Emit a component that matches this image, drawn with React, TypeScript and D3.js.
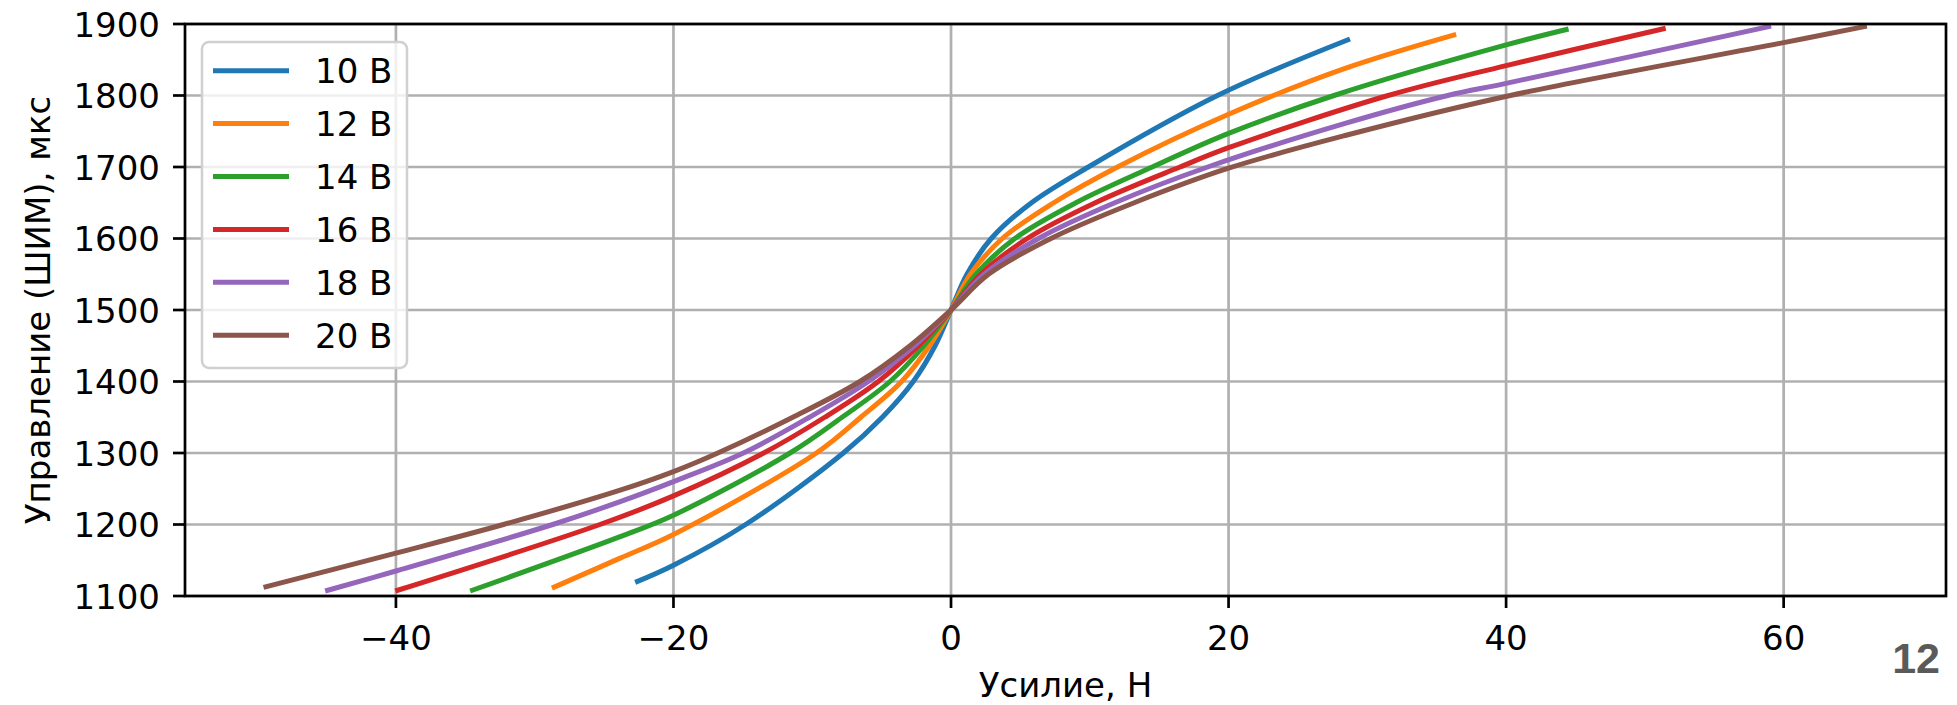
import React from "react";
import * as d3 from "d3";

// ---- data ----
const xTicks = [-40, -20, 0, 20, 40, 60];
const yTicks = [1100, 1200, 1300, 1400, 1500, 1600, 1700, 1800, 1900];
const seriesLabels = ["10 В", "12 В", "14 В", "16 В", "18 В", "20 В"];
const seriesColors = ["#1f77b4", "#ff7f0e", "#2ca02c", "#d62728", "#9467bd", "#8c564b"];

const force10 = [-22.76, -20, -14.8, -7.76, -4.95, -2.72, -1.15, 0, 1.15, 2.9, 5.8, 9.9, 19.2, 28.75];
const pwm10 = [1119, 1143, 1200, 1300, 1350, 1400, 1450, 1500, 1550, 1600, 1650, 1700, 1800, 1879];

const force12 = [-28.76, -23.84, -20, -9.7, -6.5, -3.56, -1.55, 0, 1.4, 3.7, 7.4, 12, 20, 28.4, 36.4];
const pwm12 = [1111, 1153, 1186, 1300, 1350, 1400, 1450, 1500, 1550, 1600, 1650, 1700, 1773.7, 1838, 1885.6];

const force14 = [-34.65, -23.84, -20, -11.6, -7.85, -4.4, -1.95, 0, 1.8, 4.6, 9.0, 14.5, 20, 27.6, 40, 44.5];
const pwm14 = [1107, 1183, 1213, 1300, 1350, 1400, 1450, 1500, 1550, 1600, 1650, 1700, 1747, 1800, 1870.7, 1893];

const force16 = [-40.05, -25.3, -20, -13.5, -9.1, -5.24, -2.35, 0, 2.15, 5.5, 10.4, 16.5, 20, 31.5, 40, 51.5];
const pwm16 = [1107, 1200, 1240, 1300, 1350, 1400, 1450, 1500, 1550, 1600, 1650, 1700, 1727, 1800, 1841.8, 1894];

const force18 = [-45.1, -40, -28.7, -23.84, -20, -14.96, -10.2, -5.96, -2.65, 0, 2.4, 6.3, 11.8, 18.5, 28.4, 35.8, 40, 59.1];
const pwm18 = [1107, 1135, 1200, 1232, 1260, 1300, 1350, 1400, 1450, 1500, 1550, 1600, 1650, 1700, 1761, 1800, 1817, 1897];

const force20 = [-49.54, -40, -32.25, -23.84, -20, -16.8, -11.4, -6.56, -2.95, 0, 2.7, 7.2, 13.2, 20, 28.4, 40.3, 60, 66];
const pwm20 = [1112, 1160, 1200, 1248, 1274, 1300, 1350, 1400, 1450, 1500, 1550, 1600, 1650, 1698.3, 1744, 1800, 1874, 1897];

const forces = [force10, force12, force14, force16, force18, force20];
const pwms = [pwm10, pwm12, pwm14, pwm16, pwm18, pwm20];

const xLabel = "Усилие, Н";
const yLabel = "Управление (ШИМ), мкс";
const pageNumber = "12";

// ---- layout ----
const W = 1957;
const H = 705;
const left = 185;
const right = 1946;
const top = 24;
const bottom = 596;
const FONT = "'DejaVu Sans', sans-serif";
const FS = 34;

const fmt = (v: number) => (v < 0 ? "\u2212" + Math.abs(v) : String(v));

export default function App() {
  const x = d3.scaleLinear().domain([-55.2, 71.7]).range([left, right]);
  const y = d3.scaleLinear().domain([1100, 1900]).range([bottom, top]);

  const line = d3
    .line<[number, number]>()
    .x((d) => x(d[0]))
    .y((d) => y(d[1]))
    .curve(d3.curveCatmullRom.alpha(0.5));

  const legendX = 202;
  const legendY = 42;
  const legendW = 205;
  const legendH = 326;
  const rowH = 52.9;
  const firstRow = 70.7;

  return (
    <svg
      width={W}
      height={H}
      style={{ position: "absolute", left: 0, top: 0, background: "#fff" }}
      fontFamily={FONT}
    >
      <rect x={0} y={0} width={W} height={H} fill="#fff" />
      <defs>
        <clipPath id="plot">
          <rect x={left} y={top} width={right - left} height={bottom - top} />
        </clipPath>
      </defs>
      {/* grid */}
      <g stroke="#b0b0b0" strokeWidth={2.7}>
        {xTicks.map((t) => (
          <line key={"gx" + t} x1={x(t)} x2={x(t)} y1={top} y2={bottom} />
        ))}
        {yTicks.map((t) => (
          <line key={"gy" + t} x1={left} x2={right} y1={y(t)} y2={y(t)} />
        ))}
      </g>
      {/* curves */}
      <g clipPath="url(#plot)" fill="none" strokeWidth={5} strokeLinecap="butt" strokeLinejoin="round">
        {forces.map((f, i) => {
          const pts: [number, number][] = f.map((v, j) => [v, pwms[i][j]]);
          pts.sort((a, b) => a[1] - b[1]);
          return <path key={i} d={line(pts) || ""} stroke={seriesColors[i]} />;
        })}
      </g>
      {/* frame */}
      <rect x={left} y={top} width={right - left} height={bottom - top} fill="none" stroke="#000" strokeWidth={2.7} />
      {/* x ticks */}
      <g>
        {xTicks.map((t) => (
          <g key={"xt" + t}>
            <line x1={x(t)} x2={x(t)} y1={bottom} y2={bottom + 12} stroke="#000" strokeWidth={2.7} />
            <text x={x(t)} y={650} textAnchor="middle" fontSize={FS} fill="#000">
              {fmt(t)}
            </text>
          </g>
        ))}
      </g>
      {/* y ticks */}
      <g>
        {yTicks.map((t) => (
          <g key={"yt" + t}>
            <line x1={left - 12} x2={left} y1={y(t)} y2={y(t)} stroke="#000" strokeWidth={2.7} />
            <text x={160} y={y(t) + 12.5} textAnchor="end" fontSize={FS} fill="#000">
              {fmt(t)}
            </text>
          </g>
        ))}
      </g>
      {/* axis labels */}
      <text x={(left + right) / 2} y={697} textAnchor="middle" fontSize={FS} fill="#000">
        {xLabel}
      </text>
      <text
        transform={`translate(50,${(top + bottom) / 2}) rotate(-90)`}
        textAnchor="middle"
        fontSize={FS}
        fill="#000"
      >
        {yLabel}
      </text>
      {/* legend */}
      <rect
        x={legendX}
        y={legendY}
        width={legendW}
        height={legendH}
        rx={7}
        ry={7}
        fill="#fff"
        fillOpacity={0.8}
        stroke="#d0d0d0"
        strokeWidth={2.5}
      />
      {seriesLabels.map((s, i) => {
        const cy = firstRow + i * rowH;
        return (
          <g key={"lg" + i}>
            <line x1={213} x2={289} y1={cy} y2={cy} stroke={seriesColors[i]} strokeWidth={5} />
            <text x={315} y={cy + 12.5} fontSize={FS} fill="#000">
              {s}
            </text>
          </g>
        );
      })}
      {/* page number */}
      <text
        x={1940}
        y={673}
        textAnchor="end"
        fontSize={43}
        fontWeight="bold"
        fontFamily="'Liberation Sans', Arial, sans-serif"
        fill="#5a5a5a"
      >
        {pageNumber}
      </text>
    </svg>
  );
}
